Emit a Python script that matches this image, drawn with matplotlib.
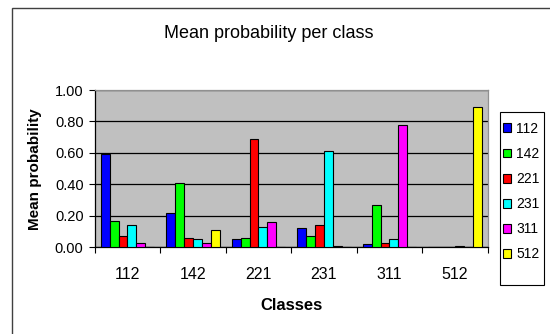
import matplotlib
matplotlib.use("Agg")
import matplotlib.pyplot as plt
from matplotlib.patches import Rectangle, Patch
import numpy as np

plt.rcParams['font.family'] = ['Liberation Sans', 'DejaVu Sans']

classes = ["112", "142", "221", "231", "311", "512"]
series = ["112", "142", "221", "231", "311", "512"]
colors = ["#0000FF", "#00FF00", "#FF0000", "#00FFFF", "#FF00FF", "#FFFF00"]

# mean probability of each predicted class (series) within each true class
p_112 = [0.59, 0.22, 0.05, 0.12, 0.02, 0.00]
p_142 = [0.17, 0.41, 0.06, 0.07, 0.27, 0.00]
p_221 = [0.07, 0.06, 0.69, 0.14, 0.03, 0.00]
p_231 = [0.14, 0.05, 0.13, 0.61, 0.05, 0.01]
p_311 = [0.03, 0.03, 0.16, 0.01, 0.78, 0.00]
p_512 = [0.00, 0.11, 0.00, 0.00, 0.00, 0.89]
values = [p_112, p_142, p_221, p_231, p_311, p_512]

yticks = [0.0, 0.2, 0.4, 0.6, 0.8, 1.0]

W, H = 550, 334
fig = plt.figure(figsize=(W / 100, H / 100), dpi=100)
fig.patch.set_facecolor("white")

# outer chart frame
fig.add_artist(Rectangle((12 / W, -0.1), 1.2, 1.1 - 8 / H, transform=fig.transFigure,
                         fill=False, edgecolor="#404040", linewidth=1.0))

ax = fig.add_axes([0.1722, 0.2596, 0.7145, 0.4709])
ax.set_facecolor("#C0C0C0")

x = np.arange(len(classes))
w = 0.1357
for j, (name, col, vals) in enumerate(zip(series, colors, values)):
    ax.bar(x + (j - 2.5) * w, vals, width=w, color=col, edgecolor="black",
           linewidth=0.8, zorder=3)

ax.set_xlim(-0.5, len(classes) - 0.5)
ax.set_ylim(0, 1.0)
ax.set_yticks(yticks)
ax.set_yticklabels([f"{v:.2f}" for v in yticks], fontsize=10.5)
ax.yaxis.grid(True, color="black", linewidth=0.9, zorder=1)
ax.set_axisbelow(True)

ax.set_xticks(x)
ax.set_xticklabels(classes, fontsize=11.5)
ax.set_xticks(np.arange(len(classes) + 1) - 0.5, minor=True)
ax.tick_params(axis="x", which="major", length=0, pad=14)
ax.tick_params(axis="x", which="minor", length=4, width=0.8, direction="out")
ax.tick_params(axis="y", length=4, width=0.8, direction="out", pad=4)

for s in ["left", "bottom"]:
    ax.spines[s].set_color("black")
    ax.spines[s].set_linewidth(0.9)
for s in ["top", "right"]:
    ax.spines[s].set_color("#909090")
    ax.spines[s].set_linewidth(0.9)

ax.set_ylabel("Mean probability", fontsize=11, fontweight="bold", labelpad=9)
ax.set_xlabel("Classes", fontsize=12, fontweight="bold", labelpad=12)
fig.text(269 / W, 1 - 33 / H, "Mean probability per class", fontsize=13,
         ha="center", va="center")

# legend box, taller than its entries
fig.add_artist(Rectangle((500 / W, 1 - 285 / H), 44 / W, 173 / H,
                         transform=fig.transFigure, facecolor="white",
                         edgecolor="black", linewidth=0.8, zorder=4))
handles = [Patch(facecolor=c, edgecolor="black", linewidth=0.8) for c in colors]
leg = fig.legend(handles, series, loc="upper left",
                 bbox_to_anchor=(500 / W, 1 - 119 / H), fontsize=10,
                 handlelength=0.6, handleheight=0.6, handletextpad=0.35,
                 labelspacing=0.80, borderpad=0.2, borderaxespad=0,
                 frameon=False)
leg.set_zorder(5)

fig.savefig("out.png", dpi=100)
